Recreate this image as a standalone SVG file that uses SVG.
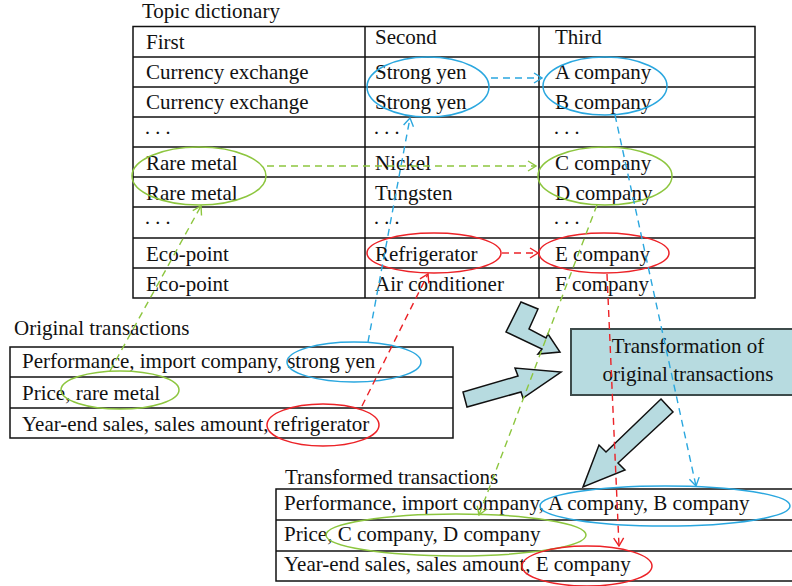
<svg xmlns="http://www.w3.org/2000/svg" width="792" height="586" viewBox="0 0 792 586">
<style>
text{font-family:"Liberation Serif","Times New Roman",serif;font-size:21px;fill:#111}
.grid{fill:none;stroke:#111;stroke-width:1.5}
.ln{stroke:#111;stroke-width:1.5}
.eb{fill:none;stroke:#2aa7df;stroke-width:1.5}
.eg{fill:none;stroke:#8dc63f;stroke-width:1.5}
.er{fill:none;stroke:#ec2227;stroke-width:1.5}
.db{fill:none;stroke:#2aa7df;stroke-width:1.4;stroke-dasharray:7 5}
.dg{fill:none;stroke:#8dc63f;stroke-width:1.4;stroke-dasharray:7 5}
.dr{fill:none;stroke:#ec2227;stroke-width:1.4;stroke-dasharray:7 5}
.blk{fill:#b7dbe0;stroke:#111;stroke-width:1.5;stroke-linejoin:miter}
.dots{word-spacing:-2px}
.mid{text-anchor:middle}
</style>
<defs>
<marker id="mb" markerWidth="10" markerHeight="12" refX="9" refY="6" orient="auto" markerUnits="userSpaceOnUse"><path d="M1,1 L9,6 L1,11" fill="none" stroke="#2aa7df" stroke-width="1.4"/></marker>
<marker id="mg" markerWidth="10" markerHeight="12" refX="9" refY="6" orient="auto" markerUnits="userSpaceOnUse"><path d="M1,1 L9,6 L1,11" fill="none" stroke="#8dc63f" stroke-width="1.4"/></marker>
<marker id="mr" markerWidth="10" markerHeight="12" refX="9" refY="6" orient="auto" markerUnits="userSpaceOnUse"><path d="M1,1 L9,6 L1,11" fill="none" stroke="#ec2227" stroke-width="1.4"/></marker>
</defs>

<g id="topic-dictionary">
<text x="142" y="18">Topic dictionary</text>
<rect class="grid" x="133" y="26.5" width="622" height="271.5"/>
<line class="ln" x1="133" y1="57" x2="755" y2="57"/>
<line class="ln" x1="133" y1="87" x2="755" y2="87"/>
<line class="ln" x1="133" y1="117" x2="755" y2="117"/>
<line class="ln" x1="133" y1="147" x2="755" y2="147"/>
<line class="ln" x1="133" y1="177" x2="755" y2="177"/>
<line class="ln" x1="133" y1="207" x2="755" y2="207"/>
<line class="ln" x1="133" y1="238" x2="755" y2="238"/>
<line class="ln" x1="133" y1="268" x2="755" y2="268"/>
<line class="ln" x1="365" y1="26.5" x2="365" y2="298"/>
<line class="ln" x1="539" y1="26.5" x2="539" y2="298"/>
<text x="146" y="49">First</text>
<text x="375" y="44">Second</text>
<text x="555" y="44">Third</text>
<text x="146" y="79">Currency exchange</text>
<text x="375" y="79">Strong yen</text>
<text x="555" y="79">A company</text>
<text x="146" y="109">Currency exchange</text>
<text x="375" y="109">Strong yen</text>
<text x="555" y="109">B company</text>
<text class="dots" x="144" y="140">· · ·</text>
<text class="dots" x="373" y="140">· · ·</text>
<text class="dots" x="553" y="140">· · ·</text>
<text x="146" y="170">Rare metal</text>
<text x="375" y="170">Nickel</text>
<text x="555" y="170">C company</text>
<text x="146" y="200">Rare metal</text>
<text x="375" y="200">Tungsten</text>
<text x="555" y="200">D company</text>
<text class="dots" x="144" y="230">· · ·</text>
<text class="dots" x="373" y="230">· · ·</text>
<text class="dots" x="553" y="230">· · ·</text>
<text x="146" y="261">Eco-point</text>
<text x="375" y="261">Refrigerator</text>
<text x="555" y="261">E company</text>
<text x="146" y="291">Eco-point</text>
<text x="375" y="291">Air conditioner</text>
<text x="555" y="291">F company</text>
<ellipse class="eb" cx="428" cy="87" rx="61" ry="30"/>
<ellipse class="eb" cx="605" cy="86" rx="62" ry="29"/>
<ellipse class="eg" cx="199" cy="176" rx="67" ry="29"/>
<ellipse class="eg" cx="605" cy="176" rx="67" ry="29"/>
<ellipse class="er" cx="434" cy="253" rx="67" ry="20"/>
<ellipse class="er" cx="604" cy="253" rx="65" ry="20"/>
</g>

<g id="original-transactions">
<text x="14" y="335">Original transactions</text>
<rect class="grid" x="10" y="347" width="443" height="91"/>
<line class="ln" x1="10" y1="377" x2="453" y2="377"/>
<line class="ln" x1="10" y1="408" x2="453" y2="408"/>
<text x="22" y="368">Performance, import company, strong yen</text>
<text x="22" y="400">Price, rare metal</text>
<text x="22" y="431">Year-end sales, sales amount, refrigerator</text>
<ellipse class="eb" cx="354" cy="362" rx="67" ry="20"/>
<ellipse class="eg" cx="120" cy="390" rx="59" ry="19"/>
<ellipse class="er" cx="323" cy="425" rx="56" ry="21"/>
</g>

<g id="transformation-box">
<rect x="571" y="329" width="240" height="66" fill="#b7dbe0" stroke="#3d4b4b" stroke-width="2"/>
<text class="mid" x="688" y="353">Transformation of</text>
<text class="mid" x="688" y="381">original transactions</text>
</g>

<g id="transformed-transactions">
<text x="285" y="484">Transformed transactions</text>
<rect class="grid" x="276" y="489" width="530" height="92"/>
<line class="ln" x1="276" y1="520" x2="806" y2="520"/>
<line class="ln" x1="276" y1="551" x2="806" y2="551"/>
<text x="284" y="510">Performance, import company, A company, B company</text>
<text x="284" y="541">Price, C company, D company</text>
<text x="284" y="571">Year-end sales, sales amount, E company</text>
<ellipse class="eb" cx="665" cy="506" rx="125" ry="20"/>
<ellipse class="eg" cx="456" cy="535" rx="130" ry="21"/>
<ellipse class="er" cx="587" cy="566" rx="65" ry="20"/>
</g>

<g id="connectors">
<polygon class="blk" points="521,302 538,309 529,329 546,338 548,334 560,352 538,354 542,349 506,332"/>
<polygon class="blk" points="467,407 463,392 518,376 515,368 561,372 523,398 521,392"/>
<polygon class="blk" points="661,399 673,412 618,463 625,470 583,487 599,445 606,452"/>
<line class="db" x1="491" y1="78" x2="542" y2="78" marker-end="url(#mb)"/>
<line class="dg" x1="267" y1="166" x2="536" y2="166" marker-end="url(#mg)"/>
<line class="dr" x1="502" y1="253" x2="538" y2="253" marker-end="url(#mr)"/>
<line class="db" x1="368" y1="342" x2="410" y2="118" marker-end="url(#mb)"/>
<line class="db" x1="615" y1="115" x2="696" y2="486" marker-end="url(#mb)"/>
<line class="dg" x1="110" y1="371" x2="201" y2="206" marker-end="url(#mg)"/>
<line class="dg" x1="597" y1="205" x2="479" y2="515" marker-end="url(#mg)"/>
<line class="dr" x1="362" y1="406" x2="428" y2="274" marker-end="url(#mr)"/>
<line class="dr" x1="607" y1="274" x2="619" y2="546" marker-end="url(#mr)"/>
</g>
</svg>
